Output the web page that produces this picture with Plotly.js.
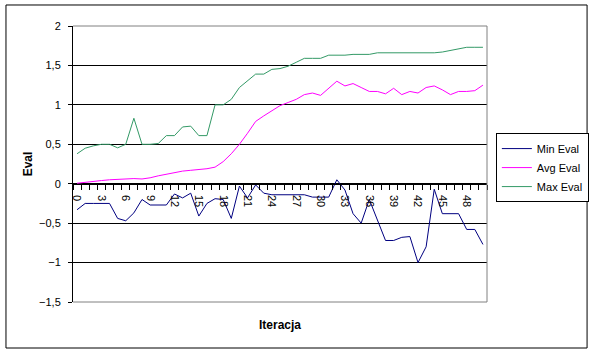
<!DOCTYPE html>
<html>
<head>
<meta charset="utf-8">
<script src="https://cdn.plot.ly/plotly-3.0.1.min.js"></script>
<style>
html,body{margin:0;padding:0;background:#fff;}
#chart{width:601px;height:353px;}
</style>
</head>
<body>
<div id="chart"></div>
<script>
const iterations = [0,1,2,3,4,5,6,7,8,9,10,11,12,13,14,15,16,17,18,19,20,21,22,23,24,25,26,27,28,29,30,31,32,33,34,35,36,37,38,39,40,41,42,43,44,45,46,47,48,49,50];
const tickLabels = ['0','3','6','9','12','15','18','21','24','27','30','33','36','39','42','45','48'];
const tickPositions = [0,3,6,9,12,15,18,21,24,27,30,33,36,39,42,45,48];

const minEval = [-0.33,-0.25,-0.25,-0.25,-0.25,-0.44,-0.47,-0.37,-0.2,-0.27,
  -0.27,-0.27,-0.13,-0.18,-0.12,-0.41,-0.25,-0.19,-0.2,-0.44,
  -0.03,-0.18,-0.015,-0.12,-0.14,-0.14,-0.14,-0.14,-0.14,-0.17,
  -0.17,-0.17,0.05,-0.08,-0.38,-0.5,-0.2,-0.46,-0.72,-0.72,
  -0.68,-0.67,-1.0,-0.8,-0.07,-0.38,-0.38,-0.38,-0.58,-0.58,-0.77];
const avgEval = [0.006,0.02,0.03,0.04,0.05,0.055,0.06,0.065,0.06,0.075,
  0.1,0.12,0.14,0.16,0.17,0.18,0.19,0.21,0.28,0.38,
  0.5,0.64,0.79,0.86,0.93,0.99,1.03,1.07,1.13,1.15,
  1.12,1.21,1.30,1.24,1.27,1.22,1.17,1.17,1.14,1.21,
  1.13,1.17,1.15,1.22,1.24,1.19,1.13,1.17,1.17,1.18,1.25];
const maxEval = [0.38,0.45,0.48,0.5,0.5,0.455,0.5,0.83,0.5,0.5,
  0.51,0.61,0.61,0.72,0.73,0.61,0.61,1.0,1.0,1.07,
  1.22,1.31,1.39,1.39,1.45,1.46,1.49,1.54,1.59,1.59,
  1.59,1.63,1.63,1.63,1.64,1.64,1.64,1.66,1.66,1.66,
  1.66,1.66,1.66,1.66,1.66,1.67,1.69,1.71,1.73,1.73,1.73];

const FONT = 'Arial, "Liberation Sans", sans-serif';

const traces = [
  {x: iterations, y: minEval, name: 'Min Eval', type: 'scatter', mode: 'lines', line: {color: '#000080', width: 1}},
  {x: iterations, y: avgEval, name: 'Avg Eval', type: 'scatter', mode: 'lines', line: {color: '#FF00FF', width: 1}},
  {x: iterations, y: maxEval, name: 'Max Eval', type: 'scatter', mode: 'lines', line: {color: '#339966', width: 1}}
];

const layout = {
  width: 601, height: 353,
  margin: {l: 73, r: 108, t: 26, b: 51, pad: 0},
  paper_bgcolor: '#fff', plot_bgcolor: '#fff',
  separators: ', ',
  font: {family: FONT, size: 11, color: '#000'},
  showlegend: true,
  legend: {
    x: 1.0214, y: 0.612, xanchor: 'left', yanchor: 'top',
    bordercolor: '#000', borderwidth: 1, bgcolor: '#fff',
    font: {family: FONT, size: 11, color: '#000'},
    itemwidth: 30, tracegroupgap: 0
  },
  xaxis: {
    range: [-0.5, 50.5],
    anchor: 'free', position: 1.5/3.5,
    showline: true, linecolor: '#000', linewidth: 1,
    showgrid: false, zeroline: false,
    tickmode: 'array', tickvals: tickPositions, ticktext: tickLabels,
    ticks: '', tickangle: 90,
    ticklabelstandoff: 8,
    minor: {tick0: -0.5, dtick: 1, ticks: 'outside', ticklen: 5, tickcolor: '#000', tickwidth: 1, showgrid: false},
    tickfont: {family: FONT, size: 11, color: '#000'}
  },
  yaxis: {
    range: [-1.5, 2], dtick: 0.5, tick0: 0,
    showline: true, linecolor: '#000', linewidth: 1,
    showgrid: true, gridcolor: '#000', gridwidth: 1,
    zeroline: false,
    ticks: 'outside', ticklen: 4, tickcolor: '#000',
    ticklabelstandoff: 5,
    tickfont: {family: FONT, size: 11, color: '#000'},
    title: {text: 'Eval', font: {family: FONT, size: 12, color: '#000', weight: 'bold'}, standoff: 3}
  },
  annotations: [
    {xref: 'paper', yref: 'paper', x: 0.5, y: -0.0833, text: '<b>Iteracja</b>', showarrow: false,
     xanchor: 'center', yanchor: 'middle', font: {family: FONT, size: 12, color: '#000'}}
  ],
  shapes: [
    {type: 'line', xref: 'paper', yref: 'paper', x0: 0, x1: 1, y0: 1, y1: 1, line: {color: '#808080', width: 1}, layer: 'above'},
    {type: 'line', xref: 'paper', yref: 'paper', x0: 1, x1: 1, y0: 0, y1: 1, line: {color: '#808080', width: 1}, layer: 'above'},
    {type: 'line', xref: 'paper', yref: 'paper', x0: 0, x1: 1, y0: 0, y1: 0, line: {color: '#808080', width: 1}, layer: 'above'},
    {type: 'rect', xref: 'paper', yref: 'paper', x0: -0.1619, x1: 1.2417, y0: -0.1667, y1: 1.0761, line: {color: '#000', width: 1}, fillcolor: 'rgba(0,0,0,0)', layer: 'above'}
  ]
};

Plotly.newPlot('chart', traces, layout, {displayModeBar: false, staticPlot: true});
</script>
</body>
</html>
